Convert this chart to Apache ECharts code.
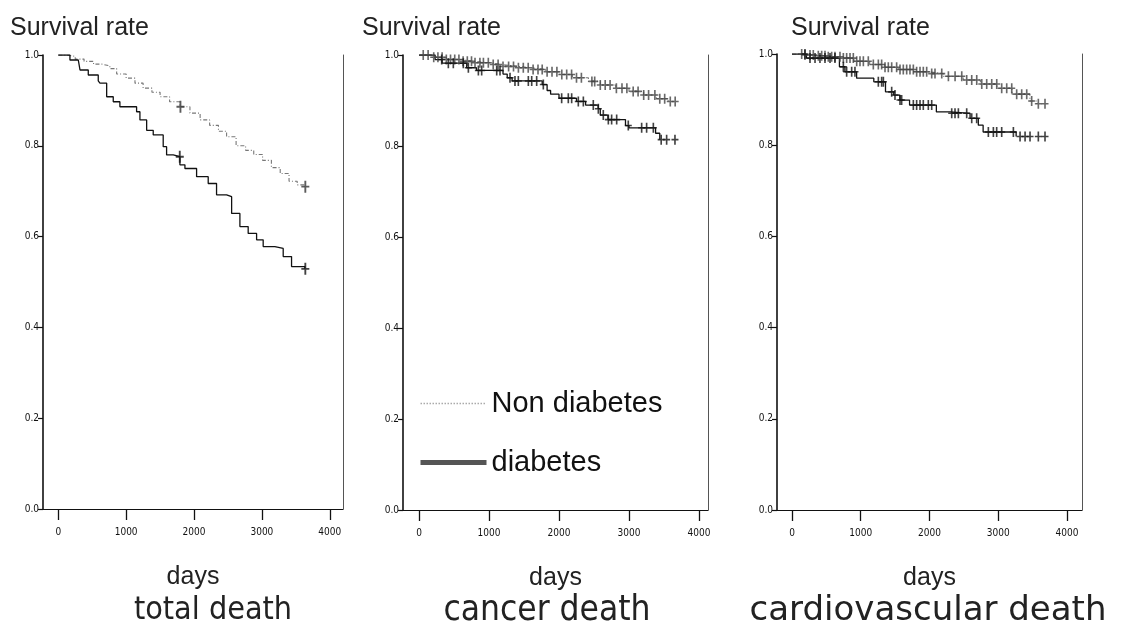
<!DOCTYPE html>
<html>
<head>
<meta charset="utf-8">
<script src="https://cdn.jsdelivr.net/npm/echarts@6/dist/echarts.min.js"></script>
<style>html,body{margin:0;padding:0;background:#fff}#c{width:1124px;height:628px}</style>
</head>
<body>
<div id="c"></div>
<script>
// ---- data ----
const xTickValues = [0, 1000, 2000, 3000, 4000];
const panelTitles = ['total death', 'cancer death', 'cardiovascular death'];
const yTitle = 'Survival rate';
const xTitle = 'days';
const seriesNames = ['Non diabetes', 'diabetes'];

// Panel 1: total death
const p1NonDays = [0, 120, 250, 380, 520, 640, 760, 860, 1000, 1130, 1250, 1380, 1500, 1640, 1790, 1940, 2090, 2230, 2360, 2480, 2620, 2760, 2880, 3010, 3140, 3270, 3400, 3520, 3633];
const p1NonSurv = [1.0, 0.997, 0.991, 0.986, 0.980, 0.976, 0.970, 0.958, 0.949, 0.938, 0.927, 0.918, 0.908, 0.897, 0.886, 0.872, 0.857, 0.845, 0.832, 0.820, 0.800, 0.790, 0.781, 0.768, 0.752, 0.739, 0.722, 0.714, 0.710];
const p1DiabDays = [0, 172, 295, 320, 442, 589, 614, 713, 810, 908, 1154, 1203, 1302, 1399, 1546, 1596, 1694, 1792, 1866, 2038, 2209, 2332, 2480, 2554, 2676, 2798, 2922, 3019, 3191, 3314, 3437, 3633];
const p1DiabSurv = [1.0, 0.989, 0.985, 0.967, 0.956, 0.943, 0.938, 0.908, 0.897, 0.886, 0.875, 0.857, 0.834, 0.824, 0.798, 0.780, 0.776, 0.758, 0.750, 0.732, 0.717, 0.692, 0.688, 0.651, 0.622, 0.607, 0.593, 0.578, 0.574, 0.556, 0.534, 0.529];
const p1NonCens = [1800, 3640];
const p1DiabCens = [1790, 3640];

// Panel 2: cancer death
const p2NonDays = [0, 180, 390, 610, 790, 1010, 1190, 1420, 1600, 1810, 2010, 2190, 2420, 2590, 2810, 3000, 3210, 3390, 3560];
const p2NonSurv = [1.0, 0.995, 0.990, 0.986, 0.983, 0.979, 0.975, 0.972, 0.968, 0.963, 0.957, 0.950, 0.942, 0.934, 0.927, 0.920, 0.912, 0.904, 0.898];
const p2DiabDays = [0, 230, 330, 680, 820, 1200, 1260, 1330, 1760, 1830, 1880, 2000, 2250, 2380, 2560, 2590, 2700, 2950, 3000, 3380, 3440];
const p2DiabSurv = [1.0, 0.990, 0.982, 0.972, 0.966, 0.958, 0.950, 0.943, 0.935, 0.922, 0.914, 0.905, 0.898, 0.890, 0.882, 0.868, 0.858, 0.845, 0.840, 0.828, 0.814];
const p2NonCens = [60, 130, 210, 270, 330, 390, 450, 510, 570, 630, 690, 750, 800, 870, 920, 990, 1060, 1130, 1200, 1280, 1350, 1420, 1490, 1560, 1630, 1700, 1760, 1830, 1900, 1970, 2040, 2110, 2180, 2250, 2320, 2470, 2510, 2590, 2660, 2730, 2820, 2900, 2970, 3060, 3130, 3210, 3280, 3370, 3440, 3510, 3590, 3660];
const p2DiabCens = [324, 419, 490, 633, 705, 848, 895, 1110, 1157, 1300, 1371, 1419, 1562, 1610, 1681, 1776, 2038, 2133, 2181, 2276, 2348, 2490, 2562, 2633, 2705, 2752, 2824, 2990, 3181, 3252, 3348, 3460, 3538, 3657];

// Panel 3: cardiovascular death
const p3NonDays = [0, 150, 330, 520, 700, 900, 1130, 1350, 1550, 1770, 1980, 2200, 2490, 2740, 2980, 3200, 3460, 3560];
const p3NonSurv = [1.0, 0.998, 0.996, 0.994, 0.991, 0.984, 0.977, 0.971, 0.966, 0.961, 0.957, 0.951, 0.943, 0.934, 0.925, 0.912, 0.897, 0.891];
const p3DiabDays = [0, 210, 690, 770, 940, 1190, 1360, 1480, 1570, 1710, 2100, 2300, 2590, 2710, 2780, 3260];
const p3DiabSurv = [1.0, 0.991, 0.972, 0.961, 0.947, 0.939, 0.917, 0.910, 0.899, 0.888, 0.873, 0.870, 0.859, 0.844, 0.829, 0.819];
const p3NonCens = [141, 189, 262, 310, 383, 432, 480, 528, 577, 625, 698, 747, 795, 844, 892, 941, 989, 1038, 1110, 1183, 1256, 1304, 1353, 1401, 1450, 1522, 1571, 1619, 1668, 1716, 1765, 1813, 1862, 1910, 1959, 2032, 2080, 2178, 2275, 2372, 2469, 2541, 2614, 2687, 2760, 2832, 2905, 2978, 3050, 3123, 3196, 3268, 3341, 3414, 3486, 3583, 3680];
const p3DiabCens = [189, 262, 335, 407, 480, 553, 625, 747, 795, 868, 916, 1256, 1304, 1329, 1450, 1498, 1571, 1595, 1765, 1813, 1862, 1910, 1983, 2032, 2323, 2371, 2420, 2541, 2614, 2686, 2856, 2929, 2977, 3050, 3220, 3317, 3390, 3462, 3583, 3680];

const panels = [
  {non: [p1NonDays, p1NonSurv, p1NonCens], diab: [p1DiabDays, p1DiabSurv, p1DiabCens]},
  {non: [p2NonDays, p2NonSurv, p2NonCens], diab: [p2DiabDays, p2DiabSurv, p2DiabCens]},
  {non: [p3NonDays, p3NonSurv, p3NonCens], diab: [p3DiabDays, p3DiabSurv, p3DiabCens]}
];

// ---- layout ----
const grids = [
  {left: 43, top: 55, width: 300, height: 454},
  {left: 403, top: 55, width: 305, height: 455},
  {left: 777, top: 54, width: 305, height: 456}
];
const xRanges = [[-225, 4195], [-229, 4129], [-218, 4218]];
const yTitlePos = [10, 362, 791];
const bottomTitlePos = [213, 547, 928];
const bottomTitleFont = [
  {fontSize: 32, fontFamily: '"DejaVu Sans Condensed", "DejaVu Sans"'},
  {fontSize: 35, fontFamily: '"DejaVu Sans Condensed", "DejaVu Sans"'},
  {fontSize: 34, fontFamily: '"DejaVu Sans"'}
];
const tickFont = '"Liberation Sans Narrow", "DejaVu Sans Condensed", "Liberation Sans"';

function stepData(days, surv) { return days.map((d, i) => [d, surv[i]]); }
function censorData(days, surv, cens) {
  return cens.map(t => {
    let v = surv[0];
    for (let i = 0; i < days.length; i++) if (days[i] <= t) v = surv[i];
    return [t, v];
  });
}
const plusPath = 'path://M2.3,0H3.7V9H2.3Z M0,3.8H6V5.2H0Z';

const xAxis = [], yAxis = [], series = [], graphic = [];
grids.forEach((g, i) => {
  xAxis.push({
    type: 'value', gridIndex: i, min: xRanges[i][0], max: xRanges[i][1],
    name: xTitle, nameLocation: 'middle', nameGap: 56,
    nameTextStyle: {fontSize: 25, fontFamily: '"Liberation Sans"', color: '#222'},
    axisLine: {show: true, onZero: false, lineStyle: {color: '#111', width: 1}},
    axisTick: {show: true, customValues: xTickValues, length: 11, lineStyle: {color: '#111', width: 1.3}},
    axisLabel: {customValues: xTickValues, margin: 18, fontSize: 10, fontFamily: tickFont, color: '#111',
                formatter: v => String(v)},
    splitLine: {show: false}
  });
  yAxis.push({
    type: 'value', gridIndex: i, min: 0, max: 1, interval: 0.2,
    axisLine: {show: true, onZero: false, lineStyle: {color: '#111', width: 1.6}},
    axisTick: {show: true, length: 5, lineStyle: {color: '#111', width: 1.2}},
    axisLabel: {margin: 4, fontSize: 10, fontFamily: tickFont, color: '#111', formatter: v => v.toFixed(1)},
    splitLine: {show: false}
  });
});
grids.forEach((g, i) => {
  yAxis.push({
    type: 'value', gridIndex: i, min: 0, max: 1, position: 'right',
    axisLine: {show: true, onZero: false, lineStyle: {color: '#555', width: 1}},
    axisTick: {show: false}, axisLabel: {show: false}, splitLine: {show: false}
  });
});

panels.forEach((p, i) => {
  const big = i === 0;
  series.push({
    type: 'line', name: seriesNames[0], xAxisIndex: i, yAxisIndex: i, step: 'end',
    showSymbol: false, symbol: 'none', data: stepData(p.non[0], p.non[1]),
    color: '#777', itemStyle: {color: '#777'},
    lineStyle: {color: '#777', width: 1.1, type: [4, 2, 1, 2]}, z: 2
  });
  series.push({
    type: 'line', name: seriesNames[1], xAxisIndex: i, yAxisIndex: i, step: 'end',
    showSymbol: false, symbol: 'none', data: stepData(p.diab[0], p.diab[1]),
    color: '#111', itemStyle: {color: '#111'},
    lineStyle: {color: '#111', width: 1.3}, z: 3
  });
  series.push({
    type: 'scatter', name: 'censor-non-' + i, xAxisIndex: i, yAxisIndex: i,
    symbol: plusPath, symbolSize: big ? [8, 12] : [7, 10],
    itemStyle: {color: big ? '#333' : '#444'}, data: censorData(p.non[0], p.non[1], p.non[2]), z: 4
  });
  series.push({
    type: 'scatter', name: 'censor-diab-' + i, xAxisIndex: i, yAxisIndex: i,
    symbol: plusPath, symbolSize: big ? [8, 12] : [7, 10],
    itemStyle: {color: '#111'}, data: censorData(p.diab[0], p.diab[1], p.diab[2]), z: 5
  });
  graphic.push({
    type: 'text', left: yTitlePos[i], top: 16,
    style: {text: yTitle, fontSize: 25, fontFamily: '"Liberation Sans"', fill: '#222'}
  });
  graphic.push({
    type: 'text', x: bottomTitlePos[i], y: 611,
    style: {text: panelTitles[i], fontSize: bottomTitleFont[i].fontSize, fontFamily: bottomTitleFont[i].fontFamily,
            fill: '#222', textAlign: 'center', textVerticalAlign: 'middle'}
  });
});

const chart = echarts.init(document.getElementById('c'), null, {renderer: 'canvas'});
chart.setOption({
  animation: false,
  backgroundColor: '#fff',
  grid: grids.map(g => Object.assign({containLabel: false}, g)),
  xAxis, yAxis, series, graphic,
  legend: {
    orient: 'vertical', left: 413, top: 384, itemWidth: 66, itemHeight: 14, itemGap: 30,
    textStyle: {fontSize: 29, fontFamily: '"Liberation Sans"', color: '#111'},
    data: [
      {name: seriesNames[0], itemStyle: {opacity: 0}, lineStyle: {color: '#aaa', width: 1.5, type: 'dotted'}},
      {name: seriesNames[1], itemStyle: {opacity: 0}, lineStyle: {color: '#555', width: 5, type: 'solid'}}
    ],
    selectedMode: false
  }
});
</script>
</body>
</html>
